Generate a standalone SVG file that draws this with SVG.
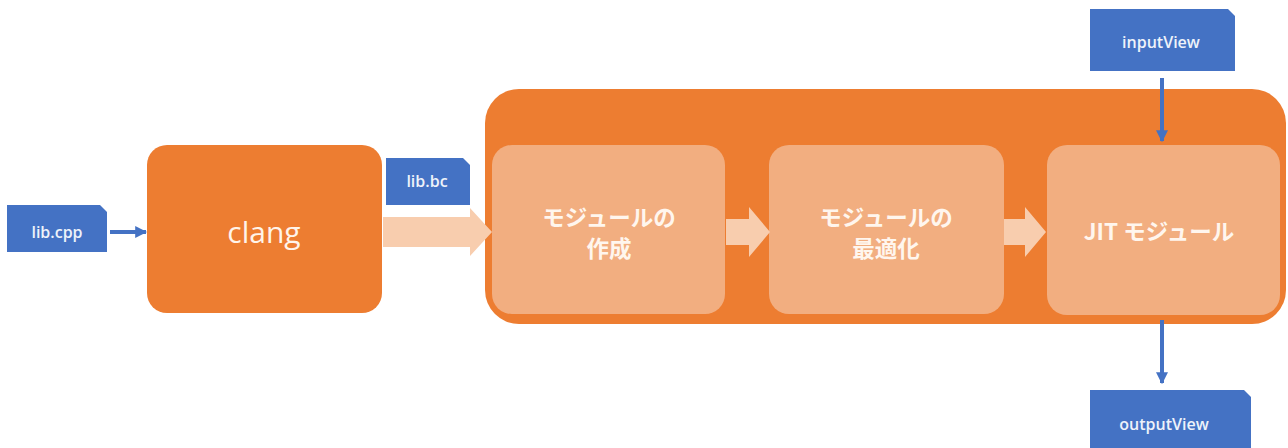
<svg xmlns="http://www.w3.org/2000/svg" width="1288" height="448" viewBox="0 0 1288 448">
<style>
.doc{fill:#4472C4}
.doct{font-family:"Open Sans","Noto Sans",sans-serif;font-size:16px;font-weight:600;fill:#EEF2FA;text-anchor:middle}
.inner{fill:#F2AE80}
.jt{font-family:"Noto Sans CJK JP","Noto Sans",sans-serif;font-weight:bold;font-size:22.5px;fill:#FFF6EE;text-anchor:middle}
.fat{fill:#F8CDAE}
.bl{stroke:#4472C4;stroke-width:4;fill:none}
</style>
<defs>
<marker id="ah" viewBox="0 0 10 10" refX="9" refY="5" markerWidth="3" markerHeight="3" orient="auto" markerUnits="strokeWidth">
<path d="M0,0 L10,5 L0,10 z" fill="#4472C4"/>
</marker>
</defs>
<rect width="1288" height="448" fill="#ffffff"/>
<g id="container">
<rect x="485" y="89" width="801" height="235" rx="34" fill="#ED7D31"/>
</g>
<g id="lib-cpp">
<path class="doc" d="M7,205 H100 L107,212 V252 H7 z"/>
<text class="doct" x="57" y="238">lib.cpp</text>
</g>
<g id="clang">
<rect x="147" y="145" width="235" height="168" rx="20" fill="#ED7D31"/>
<text x="264" y="243" font-family="Open Sans, Noto Sans, sans-serif" font-size="30" fill="#FFF4EA" text-anchor="middle">clang</text>
</g>
<g id="lib-bc">
<path class="doc" d="M386,158 H463 L470,165 V205 H386 z"/>
<text class="doct" x="427" y="187">lib.bc</text>
</g>
<g id="create-module">
<rect class="inner" x="492" y="145" width="233" height="169" rx="20"/>
<text class="jt" x="609" y="226">モジュールの</text>
<text class="jt" x="609" y="257">作成</text>
</g>
<g id="optimize-module">
<rect class="inner" x="769" y="145" width="235" height="169" rx="20"/>
<text class="jt" x="886" y="226">モジュールの</text>
<text class="jt" x="886" y="257">最適化</text>
</g>
<g id="jit-module">
<rect class="inner" x="1047" y="145" width="233" height="170" rx="20"/>
<text class="jt" x="1159" y="240" font-size="23">JIT モジュール</text>
</g>
<g id="inputView">
<path class="doc" d="M1090,9 H1228 L1235,16 V71 H1090 z"/>
<text class="doct" x="1161" y="48">inputView</text>
</g>
<g id="outputView">
<path class="doc" d="M1090,390 H1244 L1251,397 V448 H1090 z"/>
<text class="doct" x="1164" y="430">outputView</text>
</g>
<g id="connectors">
<line class="bl" x1="110" y1="232" x2="146" y2="232" marker-end="url(#ah)"/>
<path class="fat" d="M383,217 H470 V208 L492,232 L470,256 V247 H383 z"/>
<path class="fat" d="M726,219 H749 V207 L770,232 L749,257 V245 H726 z"/>
<path class="fat" d="M1004,219 H1025 V207 L1046,232 L1025,257 V245 H1004 z"/>
<line class="bl" x1="1162" y1="78" x2="1162" y2="141" marker-end="url(#ah)"/>
<line class="bl" x1="1162" y1="320" x2="1162" y2="383" marker-end="url(#ah)"/>
</g>
</svg>
